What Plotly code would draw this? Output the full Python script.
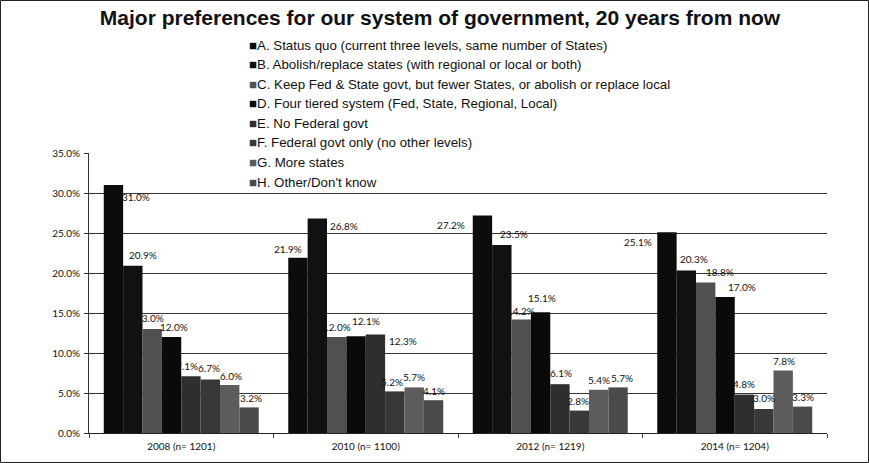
import plotly.graph_objects as go

# ---------------- data ----------------
CATEGORIES = ["2008 (n= 1201)", "2010 (n= 1100)", "2012 (n= 1219)", "2014 (n= 1204)"]
SERIES_NAMES = [
    "A. Status quo (current three levels, same number of States)",
    "B. Abolish/replace states (with regional or local or both)",
    "C. Keep Fed & State govt, but fewer States, or abolish or replace local",
    "D. Four tiered system (Fed, State, Regional, Local)",
    "E. No Federal govt",
    "F. Federal govt only (no other levels)",
    "G. More states",
    "H. Other/Don't know",
]
A_VALUES = [31.0, 21.9, 27.2, 25.1]
B_VALUES = [20.9, 26.8, 23.5, 20.3]
C_VALUES = [13.0, 12.0, 14.2, 18.8]
D_VALUES = [12.0, 12.1, 15.1, 17.0]
E_VALUES = [7.1, 12.3, 6.1, 4.8]
F_VALUES = [6.7, 5.2, 2.8, 3.0]
G_VALUES = [6.0, 5.7, 5.4, 7.8]
H_VALUES = [3.2, 4.1, 5.7, 3.3]
Y_TICKS = [0, 5, 10, 15, 20, 25, 30, 35]
Y_TICK_LABELS = ["0.0%", "5.0%", "10.0%", "15.0%", "20.0%", "25.0%", "30.0%", "35.0%"]
TITLE = "Major preferences for our system of government, 20 years from now"

SERIES_VALUES = [A_VALUES, B_VALUES, C_VALUES, D_VALUES,
                 E_VALUES, F_VALUES, G_VALUES, H_VALUES]

# ---------------- styles ----------------
COLORS = ["#0c0c0c", "#111111", "#505050", "#0a0a0a",
          "#2e2e2e", "#383838", "#5c5c5c", "#4a4a4a"]
# per-label nudges (px, right / down) relative to top-centre of its bar
LABEL_DX = [[23, -10, -31, -29], [10, 27, 12, 8], [-2, 0, 0, 14], [2, 10, 1, 17],
            [-4, 28, 1, 0], [-1, -3, -1, 0], [1, 0, 0, 1], [2, 0, 4, 0]]
LABEL_DY = [[12, -9, 10, 10], [-11, 7, -11, -12], [-11, -10, -8, -11], [-10, -15, -14, -10],
            [-10, 6, -11, -11], [-11, -9, -10, -11], [-9, -10, -10, -10], [-9, -9, -9, -10]]

W, H = 869, 463
ML, MR, MT, MB = 89, 42, 153, 30
PW, PH = W - ML - MR, H - MT - MB
BARGAP = 0.16
NSER = len(SERIES_NAMES)
BAR_W = PW / len(CATEGORIES) * (1 - BARGAP) / NSER

LABEL_FONT = dict(family="Lato, Carlito, Arial", size=10, color="#111111")


def px_x(px):
    return (px - ML) / PW


def px_y(py):
    return (H - MB - py) / PH


fig = go.Figure()
for i, (name, vals) in enumerate(zip(SERIES_NAMES, SERIES_VALUES)):
    fig.add_trace(go.Bar(name=name, x=CATEGORIES, y=vals,
                         marker=dict(color=COLORS[i], line=dict(width=0)),
                         showlegend=False))

annotations = []
for i, vals in enumerate(SERIES_VALUES):
    for j, v in enumerate(vals):
        annotations.append(dict(
            x=CATEGORIES[j], y=v, xref="x", yref="y",
            text=f"{v:.1f}%", showarrow=False, font=LABEL_FONT,
            xanchor="center", yanchor="middle",
            xshift=(i - (NSER - 1) / 2) * BAR_W + LABEL_DX[i][j],
            yshift=-LABEL_DY[i][j]))

# legend (text list with coloured square markers)
LEG_X0, LEG_Y0, LEG_DY = 247, 45, 19.6
for i, name in enumerate(SERIES_NAMES):
    annotations.append(dict(
        x=px_x(LEG_X0), y=px_y(LEG_Y0 + i * LEG_DY), xref="paper", yref="paper",
        text=f'<span style="color:{COLORS[i]}">■</span>{name}',
        showarrow=False, xanchor="left", yanchor="middle",
        font=dict(family="Arial, Liberation Sans", size=13.3, color="#111111")))

shapes = [
    # white legend background covering gridline
    dict(type="rect", xref="paper", yref="paper", layer="above",
         x0=px_x(243), x1=px_x(676), y0=px_y(191), y1=px_y(33),
         fillcolor="white", line=dict(width=0)),
    # outer frame
    dict(type="rect", xref="paper", yref="paper", layer="above",
         x0=px_x(0.5), x1=px_x(W - 0.5), y0=px_y(H - 0.5), y1=px_y(0.5),
         line=dict(color="#222222", width=1), fillcolor="rgba(0,0,0,0)"),
]

fig.update_layout(
    width=W, height=H,
    margin=dict(l=ML, r=MR, t=MT, b=MB, autoexpand=False),
    paper_bgcolor="white", plot_bgcolor="white",
    barmode="group", bargap=BARGAP, bargroupgap=0,
    title=dict(text=f"<b>{TITLE}</b>", x=440 / W, xanchor="center",
               xref="container", yref="container",
               y=1 - 18 / H, yanchor="middle",
               font=dict(family="Arial, Liberation Sans", size=21, color="#111111")),
    annotations=annotations, shapes=shapes,
    showlegend=False,
)
fig.update_xaxes(type="category", showline=True, linecolor="#222222", linewidth=1,
                 ticks="outside", tickson="boundaries", ticklen=4, tickcolor="#444444",
                 tickfont=LABEL_FONT, ticklabelstandoff=4, showgrid=False)
fig.update_yaxes(range=[0, 35], tickvals=Y_TICKS, ticktext=Y_TICK_LABELS,
                 showline=True, linecolor="#333333", linewidth=1,
                 ticks="outside", ticklen=4, tickcolor="#333333",
                 showgrid=True, gridcolor="#333333", gridwidth=1,
                 zeroline=False, tickfont=LABEL_FONT, ticklabelstandoff=2)

fig.write_html("out.html")
